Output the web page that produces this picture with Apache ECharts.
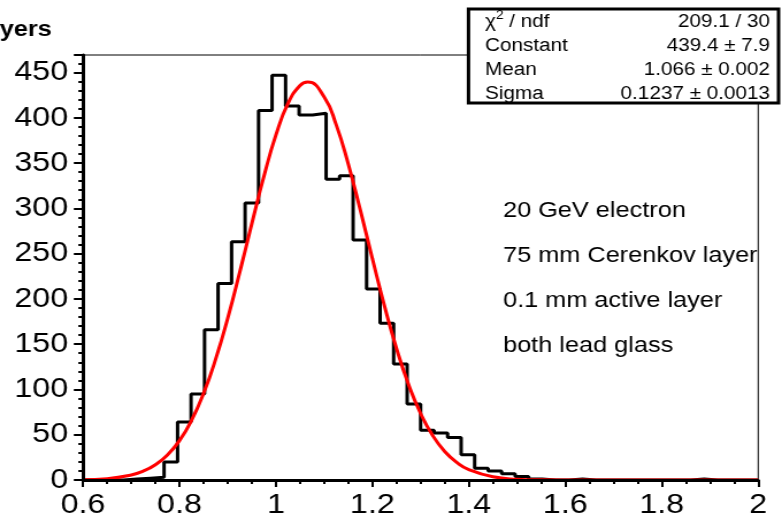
<!DOCTYPE html>
<html>
<head>
<meta charset="utf-8">
<script src="https://cdn.jsdelivr.net/npm/echarts@6/dist/echarts.min.js"></script>
<style>
html, body { margin: 0; padding: 0; background: #fff; overflow: hidden; }
#wrap { width: 783px; height: 519px; overflow: hidden; }
#main { width: 680.9px; height: 519px; transform: scaleX(1.15); transform-origin: 0 0; }
</style>
</head>
<body>
<div id="wrap"><div id="main"></div></div>
<script>
// histogram: 50 bins from 0.6 to 2.0
var binStart = 0.6;
var binWidth = 0.028;
var counts = [0, 0, 0, 1, 2, 3, 20, 64, 95, 166,
	217, 263, 306, 408, 447, 413, 403, 405, 332, 336,
	265, 211, 173, 128, 84, 55, 52, 47, 28, 13,
	10, 7, 4, 1, 0, 0, 1, 0, 0, 0,
	0, 0, 0, 0, 0, 1, 0, 0, 0, 0];

// gaussian fit curve
var fitX = [0.6, 0.65, 0.7, 0.725, 0.75, 0.775, 0.8, 0.825, 0.85, 0.875,
	0.9, 0.925, 0.95, 0.975, 1.0, 1.025, 1.05, 1.066, 1.1, 1.125,
	1.15, 1.175, 1.2, 1.225, 1.25, 1.275, 1.3, 1.325, 1.35, 1.375,
	1.4, 1.45, 1.5, 1.55, 1.6, 1.7, 1.8, 1.9, 2.0];
var fitY = [0.4, 1.5, 5.5, 9.8, 16.8, 27.6, 43.5, 65.9, 95.7, 133.4,
	178.6, 229.5, 283.1, 335.2, 381.1, 415.9, 435.7, 439.4, 423.1, 392.2,
	348.9, 298.0, 244.4, 192.3, 145.3, 105.4, 73.4, 49.1, 31.5, 19.4,
	11.5, 3.5, 0.9, 0.2, 0.04, 0, 0, 0, 0];

var statNames = ['/ ndf', 'Constant', 'Mean', 'Sigma'];
var statValues = ['209.1 / 30', '439.4 \u00b1 7.9', '1.066 \u00b1 0.002', '0.1237 \u00b1 0.0013'];
var notes = ['20 GeV electron', '75 mm Cerenkov layer', '0.1 mm active layer', 'both lead glass'];

var font = 'Liberation Sans, Arial, sans-serif';

histChart();

function histChart() {
	var dom = document.getElementById('main');
	var myChart = echarts.init(dom);

	var steps = [];
	for (var i = 0; i < counts.length; i++) {
		steps.push([+(binStart + i * binWidth).toFixed(3), counts[i]]);
	}
	steps.push([+(binStart + counts.length * binWidth).toFixed(3), counts[counts.length - 1]]);

	var fit = fitX.map(function(x, i) {
		return [x, fitY[i]];
	});

	var graphic = [];
	// stats box
	graphic.push({
		type: 'rect', z: 100,
		shape: { x: 407.4, y: 9, width: 269.6, height: 94 },
		style: { fill: '#fff', stroke: '#000', lineWidth: 3 }
	});
	for (var k = 0; k < statNames.length; k++) {
		var yy = 22 + 24 * k;
		if (k === 0) {
			graphic.push({
				type: 'text', z: 101, x: 421.7, y: yy,
				style: {
					text: '{a|\u03c7}{s|2}{a| / ndf}',
					rich: {
						a: { fontSize: 18, fontFamily: font, fill: '#000' },
						s: { fontSize: 12, fontFamily: font, fill: '#000', padding: [0, 0, 12, 0] }
					},
					verticalAlign: 'middle'
				}
			});
		} else {
			graphic.push({
				type: 'text', z: 101, x: 421.7, y: yy,
				style: { text: statNames[k], fontSize: 18, fontFamily: font, fill: '#000', verticalAlign: 'middle' }
			});
		}
		graphic.push({
			type: 'text', z: 101, x: 669.6, y: yy,
			style: { text: statValues[k], fontSize: 18, fontFamily: font, fill: '#000', align: 'right', verticalAlign: 'middle' }
		});
	}
	// annotation lines
	var noteY = [211, 256, 301, 346];
	for (var n = 0; n < notes.length; n++) {
		graphic.push({
			type: 'text', z: 101, x: 437.4, y: noteY[n],
			style: { text: notes[n], fontSize: 22, fontFamily: font, fill: '#000', verticalAlign: 'middle' }
		});
	}
	// clipped axis title
	graphic.push({
		type: 'text', z: 101, x: 45, y: 30,
		style: { text: 'yers', fontSize: 22, fontWeight: 'bold', fontFamily: font, fill: '#000', align: 'right', verticalAlign: 'middle' }
	});

	var option = {
		animation: false,
		backgroundColor: '#fff',
		grid: {
			left: 72.2,
			right: 21.7,
			top: 55,
			bottom: 36,
			show: true,
			borderColor: '#000',
			borderWidth: 1
		},
		xAxis: {
			type: 'value',
			min: 0.6,
			max: 2.0,
			interval: 0.2,
			z: 10,
			axisLine: { onZero: false, lineStyle: { color: '#000', width: 3 } },
			axisTick: { show: true, length: 7, lineStyle: { color: '#000', width: 2 } },
			minorTick: { show: true, splitNumber: 4, length: 4, lineStyle: { color: '#000', width: 2 } },
			splitLine: { show: false },
			axisLabel: { color: '#000', fontSize: 28, fontFamily: font, margin: 11 }
		},
		yAxis: {
			type: 'value',
			min: 0,
			max: 469.35,
			interval: 50,
			z: 10,
			axisLine: { show: true, lineStyle: { color: '#000', width: 3 } },
			axisTick: { show: true, length: 8, lineStyle: { color: '#000', width: 2 } },
			minorTick: { show: true, splitNumber: 5, length: 4, lineStyle: { color: '#000', width: 2 } },
			splitLine: { show: false },
			axisLabel: { color: '#000', fontSize: 28, fontFamily: font, margin: 13, showMaxLabel: false }
		},
		graphic: graphic,
		series: [{
			type: 'line',
			step: 'end',
			data: steps,
			symbol: 'none',
			lineStyle: { color: '#000', width: 3 },
			z: 2
		}, {
			type: 'line',
			smooth: true,
			data: fit,
			symbol: 'none',
			lineStyle: { color: '#ff0000', width: 3 },
			z: 3
		}]
	};
	myChart.setOption(option, true);
}
</script>
</body>
</html>
